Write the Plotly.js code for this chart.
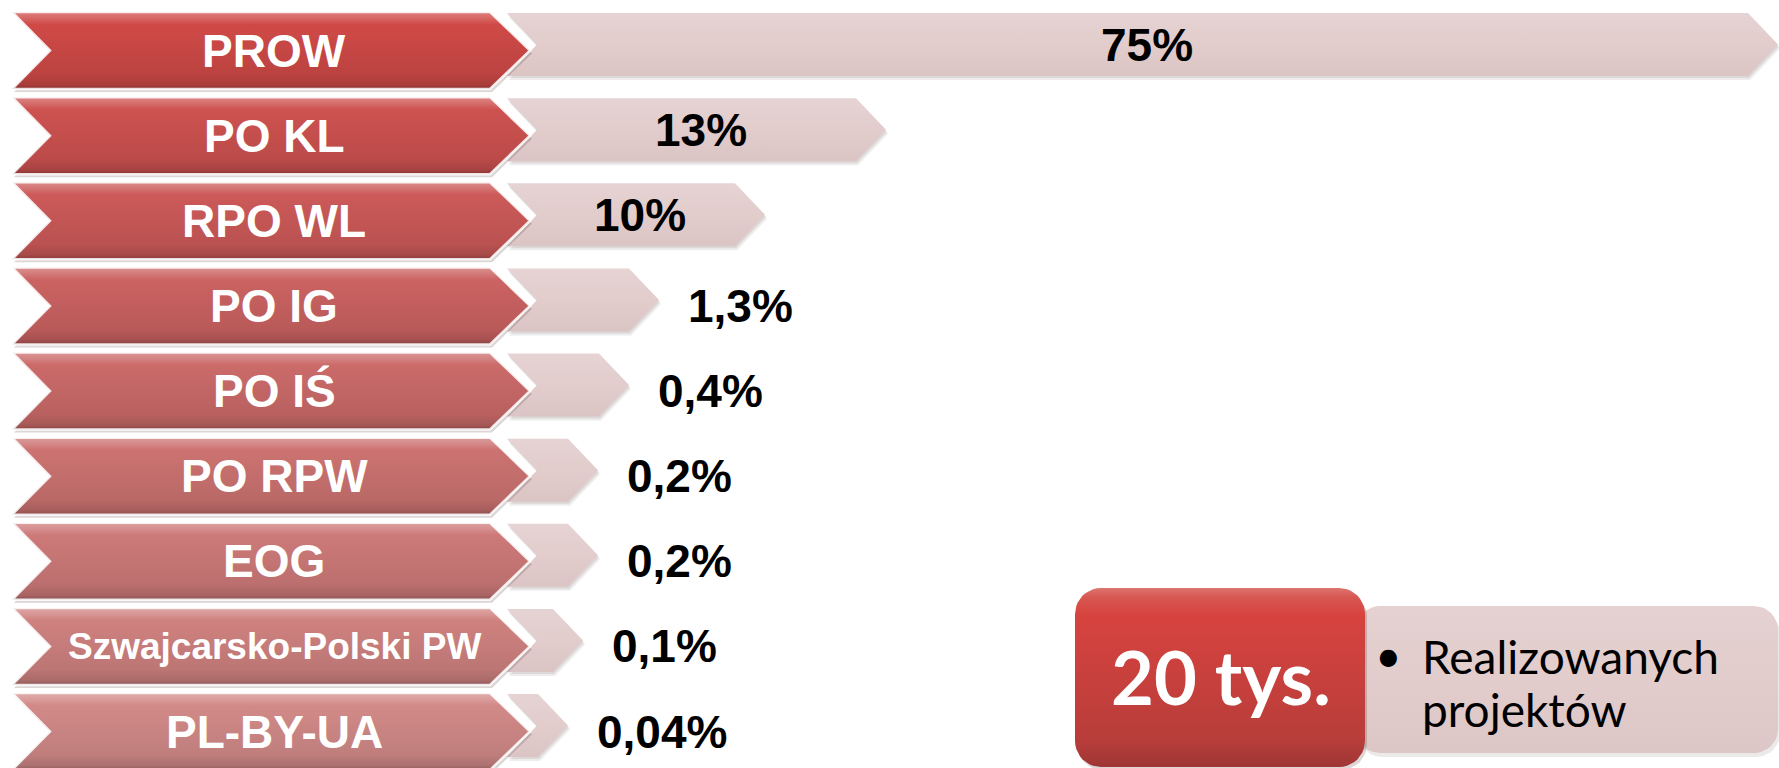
<!DOCTYPE html>
<html>
<head>
<meta charset="utf-8">
<script src="https://cdn.plot.ly/plotly-3.0.1.min.js"></script>
<style>
  html, body { margin: 0; padding: 0; background: #ffffff; }
  #chart { width: 1779px; height: 768px; }
</style>
</head>
<body>
<div id="chart"></div>
<script>
// ---------------- DATA ----------------
const categories = ['PROW', 'PO KL', 'RPO WL', 'PO IG', 'PO IŚ', 'PO RPW', 'EOG', 'Szwajcarsko-Polski PW', 'PL-BY-UA'];
const values = [75, 13, 10, 1.3, 0.4, 0.2, 0.2, 0.1, 0.04];
const valueLabels = ['75%', '13%', '10%', '1,3%', '0,4%', '0,2%', '0,2%', '0,1%', '0,04%'];
// drawn arrow length of each light bar (not proportional)
const barLength = [1271, 379, 258, 152, 122, 91, 91, 76, 61];
const summaryValue = '20 tys.';
const summaryLines = ['Realizowanych', 'projektów'];

// ---------------- STYLE / LAYOUT ----------------
const W = 1779, H = 768;
const ROW_TOP0 = 12, PITCH = 85.125, RED_H = 77, LIGHT_H = 63;
const RED_L = 12, RED_NOTCH = 38, RED_SHOULDER = 490, RED_TIP = 530;
const LIGHT_L = 507, LIGHT_DEPTH = 30;
const redBase = ['#cf4a47', '#cd5250', '#cc5a59', '#cb6362', '#cb6b6a', '#cc7371', '#cd7a79', '#cf8280', '#d28a88'];
const lightColor = '#e2cccc';
const FONT = 'Liberation Sans, Arial, sans-serif';
const FONT2 = 'Lato, Open Sans, sans-serif';

function hex2rgb(h) { h = h.replace('#', ''); return [0, 2, 4].map(i => parseInt(h.substr(i, 2), 16)); }
function mix(c, t, a) {
  const A = hex2rgb(c), B = hex2rgb(t);
  const r = A.map((v, i) => Math.round(v + (B[i] - v) * a));
  return 'rgb(' + r.join(',') + ')';
}

const traces = [];
function poly(xs, ys, extra) {
  traces.push(Object.assign({
    type: 'scatter', mode: 'lines', x: xs.concat([xs[0]]), y: ys.concat([ys[0]]),
    fill: 'toself', line: { width: 0, color: 'rgba(0,0,0,0)' },
    hoverinfo: 'skip', showlegend: false
  }, extra));
}
function gradTrace(xs, ys, top, bottom, stops, line) {
  poly(xs, ys, {
    fillgradient: { type: 'vertical', start: top, stop: bottom, colorscale: stops },
    line: line || { width: 0, color: 'rgba(0,0,0,0)' }
  });
}
function roundRect(x0, y0, x1, y1, r) {
  const xs = [], ys = [], n = 10;
  const corners = [[x1 - r, y0 + r, -90], [x1 - r, y1 - r, 0], [x0 + r, y1 - r, 90], [x0 + r, y0 + r, 180]];
  corners.forEach(([cx, cy, a0]) => {
    for (let k = 0; k <= n; k++) {
      const a = (a0 + 90 * k / n) * Math.PI / 180;
      xs.push(cx + r * Math.cos(a)); ys.push(cy + r * Math.sin(a));
    }
  });
  return [xs, ys];
}

const annotations = [];
function ann(text, x, y, size, color, opts) {
  annotations.push(Object.assign({
    text: text, x: x, y: y, xref: 'x', yref: 'y', showarrow: false,
    xanchor: 'center', yanchor: 'middle',
    font: { family: FONT, size: size, color: color, weight: 700 }
  }, opts || {}));
}

categories.forEach((cat, i) => {
  const t = ROW_TOP0 + PITCH * i;
  const lt = t + 1;
  const tip = LIGHT_L + barLength[i];
  const lx = [LIGHT_L, tip - LIGHT_DEPTH, tip, tip - LIGHT_DEPTH, LIGHT_L, LIGHT_L + LIGHT_DEPTH];
  const ly = [lt, lt, lt + LIGHT_H / 2, lt + LIGHT_H, lt + LIGHT_H, lt + LIGHT_H / 2];
  // light bar shadow
  poly(lx.map(v => v + 2), ly.map(v => v + 4), { fillcolor: 'rgba(90,70,70,0.10)' });
  poly(lx.map(v => v + 1), ly.map(v => v + 2), { fillcolor: 'rgba(90,70,70,0.12)' });
  // light bar
  gradTrace(lx, ly, lt, lt + LIGHT_H,
    [[0, '#e6d3d3'], [0.5, lightColor], [1, '#dbc4c4']]);

  // red chevron
  const rx = [RED_L, RED_SHOULDER, RED_TIP, RED_SHOULDER, RED_L, RED_L + RED_NOTCH];
  const ry = [t, t, t + RED_H / 2, t + RED_H, t + RED_H, t + RED_H / 2];
  poly(rx.map(v => v + 2), ry.map(v => v + 3), { fillcolor: 'rgba(60,30,30,0.18)' });
  const c = redBase[i];
  gradTrace(rx, ry, t, t + RED_H,
    [[0, mix(c, '#ffffff', 0.30)], [0.08, mix(c, '#ffffff', 0.16)], [0.16, c],
     [0.8, mix(c, '#000000', 0.09)], [0.94, mix(c, '#000000', 0.18)], [1, mix(c, '#000000', 0.32)]],
    { width: 2.5, color: 'rgba(255,255,255,0.85)' });

  // category label
  const lsize = cat.length > 12 ? 37 : 46;
  ann(cat, 274, t + RED_H / 2, lsize, '#ffffff');

  // value label
  if (barLength[i] > 200) {
    ann(valueLabels[i], (LIGHT_L + tip) / 2 + 4, lt + LIGHT_H / 2, 46, '#000000');
  } else {
    ann(valueLabels[i], tip + 27, t + RED_H / 2, 46, '#000000', { xanchor: 'left' });
  }
});

// summary boxes
{
  const [px, py] = roundRect(1356, 606, 1778, 753, 24);
  poly(px.map(v => v + 2), py.map(v => v + 4), { fillcolor: 'rgba(90,70,70,0.12)' });
  gradTrace(px, py, 606, 753, [[0, '#e5d1d1'], [0.5, lightColor], [1, '#dcc6c6']]);
  const [bx, by] = roundRect(1075, 588, 1365, 767, 26);
  poly(bx.map(v => v + 2), by.map(v => v + 3), { fillcolor: 'rgba(60,30,30,0.18)' });
  const c = '#d2453f';
  gradTrace(bx, by, 588, 767,
    [[0, mix(c, '#ffffff', 0.25)], [0.05, mix(c, '#ffffff', 0.1)], [0.15, '#d7433f'],
     [0.85, '#b83d3a'], [1, '#9e3634']]);
  ann(summaryValue, 1221, 676, 74, '#ffffff', { font: { family: FONT2, size: 74, color: '#ffffff', weight: 700 } });
  ann('•', 1388, 654, 46, '#000000', { font: { family: FONT2, size: 46, color: '#000000', weight: 400 } });
  summaryLines.forEach((s, k) => {
    ann(s, 1420, 656 + 53 * k, 46, '#000000', { xanchor: 'left', font: { family: FONT2, size: 46, color: '#000000', weight: 400 } });
  });
}

const layout = {
  width: W, height: H,
  margin: { l: 0, r: 0, t: 0, b: 0, pad: 0 },
  paper_bgcolor: '#ffffff', plot_bgcolor: '#ffffff',
  xaxis: { range: [0, W], visible: false, fixedrange: true },
  yaxis: { range: [H, 0], visible: false, fixedrange: true },
  annotations: annotations,
  showlegend: false
};
Plotly.newPlot('chart', traces, layout, { displayModeBar: false, staticPlot: true });
</script>
</body>
</html>
